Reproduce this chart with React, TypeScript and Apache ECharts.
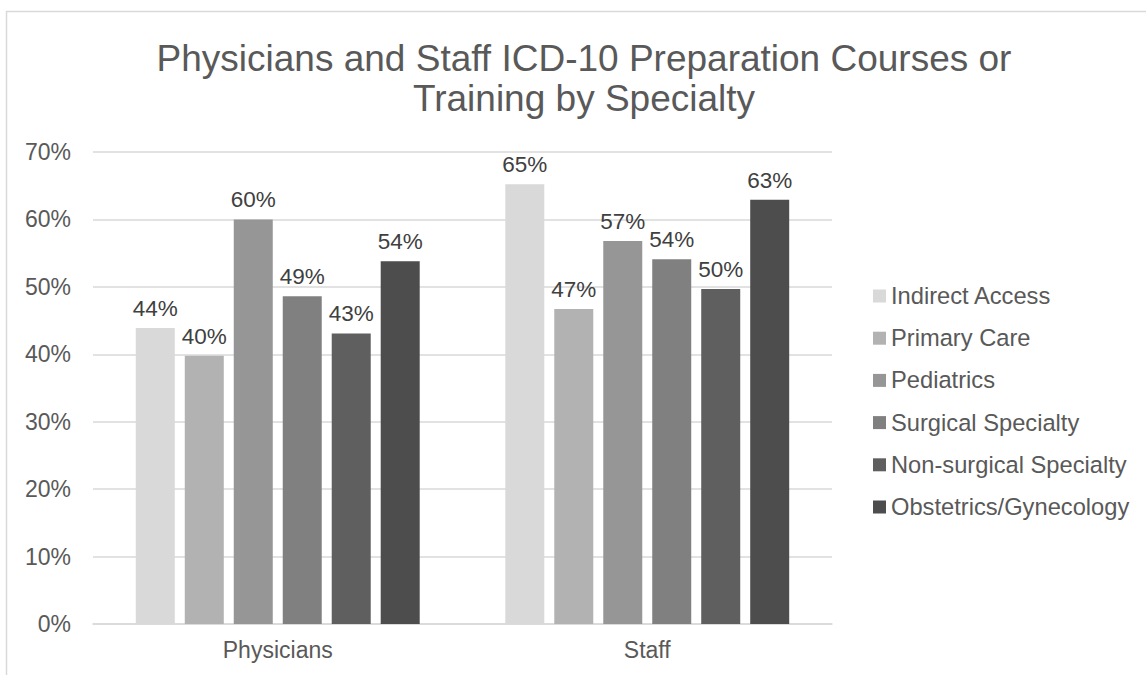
import React, { useEffect, useRef } from "react";
import * as echarts from "echarts";

const titleLines = ["Physicians and Staff ICD-10 Preparation Courses or", "Training by Specialty"];
const categories = ["Physicians", "Staff"];
const specialties = [
  "Indirect Access",
  "Primary Care",
  "Pediatrics",
  "Surgical Specialty",
  "Non-surgical Specialty",
  "Obstetrics/Gynecology",
];
const physiciansValues = [43.9, 39.8, 60.0, 48.6, 43.1, 53.8];
const staffValues = [65.2, 46.7, 56.8, 54.1, 49.7, 62.9];
const colors = ["#d9d9d9", "#b2b2b2", "#969696", "#808080", "#5f5f5f", "#4d4d4d"];

export default function App() {
  const ref = useRef<HTMLDivElement>(null);
  useEffect(() => {
    if (!ref.current) return;
    const chart = echarts.init(ref.current, undefined, { renderer: "svg" });
    const font = "'Liberation Sans', Arial, sans-serif";
    const series = specialties.map((name, i) => ({
      name,
      type: "bar",
      data: [physiciansValues[i], staffValues[i]],
      barWidth: 39,
      barGap: "25.6%",
      itemStyle: { color: colors[i] },
      label: {
        show: true,
        position: "top",
        distance: 8,
        color: "#404040",
        fontSize: 22.5,
        fontFamily: font,
        formatter: (p: any) => Math.round(p.value) + "%",
      },
    }));
    chart.setOption({
      animation: false,
      backgroundColor: "#ffffff",
      textStyle: { fontFamily: font },
      graphic: [
        {
          type: "rect",
          shape: { x: 6.5, y: 11.5, width: 1200, height: 700 },
          style: { fill: "none", stroke: "#d9d9d9", lineWidth: 1.5 },
          silent: true,
        },
        {
          type: "text",
          x: 584,
          y: 40,
          style: {
            text: titleLines[0],
            fill: "#595959",
            fontSize: 37,
            fontFamily: font,
            textAlign: "center",
          },
        },
        {
          type: "text",
          x: 584,
          y: 80,
          style: {
            text: titleLines[1],
            fill: "#595959",
            fontSize: 37,
            fontFamily: font,
            textAlign: "center",
          },
        },
      ],
      grid: { left: 93, right: 314, top: 152, bottom: 51, containLabel: false },
      legend: {
        orient: "vertical",
        left: 873,
        top: 284,
        padding: 0,
        itemWidth: 13,
        itemHeight: 13,
        itemGap: 18.2,
        icon: "rect",
        data: specialties,
        textStyle: { color: "#595959", fontSize: 23.7, fontFamily: font, lineHeight: 23 },
      },
      xAxis: {
        type: "category",
        data: categories,
        axisLine: { lineStyle: { color: "#d9d9d9", width: 1.5 } },
        axisTick: { show: false },
        axisLabel: { color: "#595959", fontSize: 23, fontFamily: font, margin: 14 },
      },
      yAxis: {
        type: "value",
        min: 0,
        max: 70,
        interval: 10,
        axisLine: { show: false },
        axisTick: { show: false },
        splitLine: { lineStyle: { color: "#d9d9d9", width: 1.5 } },
        axisLabel: {
          color: "#595959",
          fontSize: 23,
          fontFamily: font,
          margin: 22,
          formatter: "{value}%",
        },
      },
      series,
    });
    return () => chart.dispose();
  }, []);
  return (
    <div
      ref={ref}
      style={{ position: "fixed", left: 0, top: 0, width: 1146, height: 675 }}
    />
  );
}
